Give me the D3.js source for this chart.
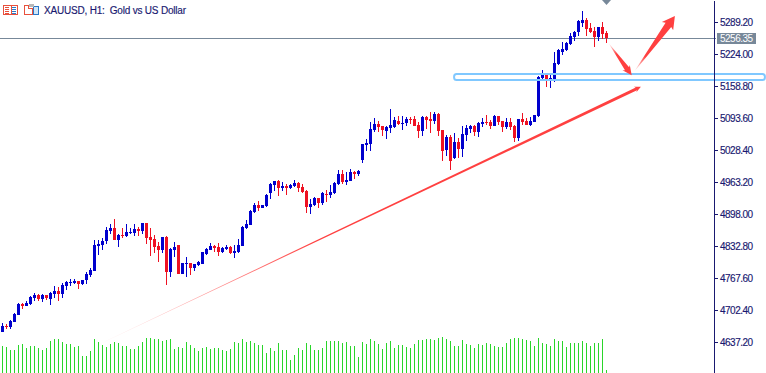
<!DOCTYPE html>
<html><head><meta charset="utf-8">
<script src="https://cdn.jsdelivr.net/npm/d3@7"></script>
<style>
html,body{margin:0;padding:0;background:#fff;overflow:hidden}
svg{display:block;font-family:"Liberation Sans",Arial,sans-serif}
</style></head><body>
<svg id="c" width="766" height="373"></svg>
<script>
const title = "XAUUSD, H1:  Gold vs US Dollar";
const lastPrice = 5256.35;
const priceTicks = [5289.20,5224.00,5158.80,5093.60,5028.40,4963.20,4898.00,4832.80,4767.60,4702.40,4637.20];
const opens = [4658,4670,4668,4679,4693,4715,4711,4715,4727,4734,4725,4734,4725,4736,4742,4736,4752,4758,4758,4762,4756,4764,4774,4782,4833,4835,4844,4864,4870,4846,4856,4854,4860,4860,4868,4864,4880,4852,4848,4833,4825,4852,4780,4825,4835,4776,4797,4799,4789,4795,4797,4817,4825,4833,4831,4821,4827,4831,4819,4821,4833,4870,4876,4903,4917,4911,4915,4941,4958,4966,4952,4956,4952,4956,4962,4954,4945,4913,4917,4931,4921,4939,4937,4941,4960,4980,4964,4966,4984,4980,5009,5039,5041,5070,5082,5078,5068,5074,5076,5088,5082,5084,5092,5092,5080,5068,5096,5092,5088,5102,5070,5029,5055,5013,5045,5031,5060,5072,5078,5066,5082,5086,5086,5078,5098,5088,5076,5086,5078,5053,5092,5088,5080,5086,5098,5176,5182,5172,5172,5204,5229,5233,5245,5259,5269,5288,5294,5278,5271,5259,5280,5267];
const highs = [4677,4675,4683,4697,4717,4717,4721,4732,4738,4736,4736,4734,4740,4752,4750,4758,4762,4766,4766,4762,4764,4780,4789,4846,4846,4850,4872,4878,4888,4858,4870,4878,4870,4878,4872,4880,4880,4870,4856,4842,4852,4854,4829,4842,4835,4799,4811,4799,4797,4803,4821,4829,4839,4835,4839,4831,4835,4833,4835,4848,4874,4886,4907,4921,4925,4917,4939,4962,4966,4968,4964,4960,4960,4968,4964,4960,4947,4929,4933,4931,4943,4947,4958,4964,4988,4988,4984,4990,4986,4988,5041,5051,5086,5094,5088,5078,5078,5112,5096,5098,5098,5096,5096,5098,5086,5098,5098,5106,5106,5104,5070,5060,5060,5064,5053,5078,5080,5080,5080,5086,5094,5100,5090,5100,5098,5088,5094,5094,5080,5092,5104,5094,5096,5100,5180,5192,5184,5182,5229,5235,5249,5249,5267,5271,5294,5312,5298,5288,5280,5280,5290,5271];
const lows = [4658,4664,4664,4679,4693,4705,4711,4713,4721,4721,4719,4723,4713,4727,4721,4727,4744,4752,4756,4746,4754,4756,4770,4782,4815,4825,4837,4858,4846,4831,4850,4852,4858,4854,4854,4858,4837,4813,4819,4801,4819,4754,4770,4811,4776,4776,4770,4774,4782,4793,4797,4815,4825,4821,4813,4819,4825,4817,4809,4819,4833,4868,4876,4901,4905,4911,4913,4929,4945,4935,4945,4937,4950,4954,4943,4941,4901,4899,4915,4911,4917,4923,4931,4939,4958,4960,4958,4966,4970,4976,5003,5027,5027,5066,5066,5058,5051,5064,5074,5080,5070,5078,5082,5078,5053,5058,5072,5064,5082,5058,5007,5017,4988,5011,5013,5015,5047,5064,5058,5055,5076,5080,5072,5078,5080,5066,5072,5070,5045,5047,5080,5080,5078,5086,5096,5170,5157,5155,5168,5202,5223,5231,5243,5251,5261,5280,5261,5267,5239,5251,5255,5247];
const closes = [4670,4668,4681,4695,4715,4711,4717,4730,4734,4725,4734,4727,4738,4742,4736,4754,4760,4760,4762,4756,4764,4776,4784,4835,4837,4844,4866,4870,4846,4856,4854,4862,4862,4868,4864,4880,4850,4846,4831,4825,4852,4780,4827,4831,4776,4799,4799,4789,4797,4801,4821,4827,4833,4829,4821,4829,4831,4819,4823,4835,4872,4878,4905,4917,4911,4917,4937,4960,4966,4952,4956,4952,4958,4962,4952,4943,4913,4919,4931,4921,4941,4937,4943,4962,4980,4964,4968,4984,4980,4986,5041,5043,5072,5082,5076,5070,5076,5080,5090,5082,5084,5092,5090,5078,5068,5096,5090,5088,5102,5068,5027,5055,5007,5045,5031,5062,5074,5078,5066,5084,5086,5084,5078,5098,5086,5076,5086,5076,5053,5092,5086,5080,5088,5100,5178,5182,5174,5176,5206,5233,5235,5247,5261,5269,5292,5294,5276,5269,5259,5280,5265,5256.35];
const volumes = [27,26,23,23,28,29,25,27,27,25,23,25,32,34,34,31,29,29,26,27,17,17,22,34,31,28,26,29,31,30,27,27,24,24,27,31,35,35,34,34,32,33,34,24,26,25,31,28,25,22,25,26,24,25,25,23,22,24,31,30,34,31,32,30,28,28,20,25,22,30,23,23,13,18,25,23,30,28,23,23,25,32,32,32,32,30,31,27,27,16,31,29,34,32,29,24,30,32,25,28,28,26,25,29,33,33,34,34,33,35,36,34,32,27,27,33,29,28,25,29,28,30,29,27,26,26,30,34,35,35,34,33,32,27,35,30,29,27,34,32,32,26,30,30,30,32,30,27,30,30,34,3];
// annotations, as [bar index, price]
const trendArrow = [[20.1,4617.4],[159.6,5157.9]];
const downArrow  = [[151.5,5247],[157.3,5181.2]];
const upArrow    = [[157.9,5188.5],[168.1,5302]];
const zoneBars   = [112.9,190.6];
const zonePrices = [5183.8,5171.6];

const blue="#0000cd", red="#ee1122", green="#2ad52a", axisC="#191970", grey="#778899", sky="#80c8ff", arrowC="#ff4040";
const svg=d3.select("#c");
const x=d3.scaleLinear().domain([0,151]).range([2.5,606.5]);
const y=d3.scaleLinear().domain([5334.6,4574.6]).range([0,373]);
const v=d3.scaleLinear().domain([0,40]).range([373,333]);
const idx=d3.range(closes.length);

// volumes
svg.append("g").attr("shape-rendering","crispEdges").selectAll("rect").data(idx).join("rect")
  .attr("x",i=>x(i)-.5).attr("width",1).attr("y",i=>v(volumes[i])).attr("height",i=>373-v(volumes[i])).attr("fill",green);

// price line
const py=Math.floor(y(lastPrice))+.5;
svg.append("line").attr("x1",0).attr("x2",716).attr("y1",py).attr("y2",py).attr("stroke",grey);

// candles
const g=svg.append("g").attr("shape-rendering","crispEdges");
const col=i=>closes[i]>=opens[i]?blue:red;
g.selectAll(".w").data(idx).join("rect").attr("class","w")
  .attr("x",i=>x(i)-.5).attr("width",1).attr("y",i=>y(highs[i])).attr("height",i=>y(lows[i])-y(highs[i])).attr("fill",col);
g.selectAll(".b").data(idx).join("rect").attr("class","b")
  .attr("x",i=>x(i)-1.5).attr("width",3)
  .attr("y",i=>y(Math.max(opens[i],closes[i])))
  .attr("height",i=>Math.max(1,Math.abs(y(opens[i])-y(closes[i])))).attr("fill",col);

// zone
svg.append("rect").attr("x",x(zoneBars[0])).attr("width",x(zoneBars[1])-x(zoneBars[0]))
  .attr("y",y(zonePrices[0])).attr("height",y(zonePrices[1])-y(zonePrices[0])).attr("rx",2.5)
  .attr("fill","none").attr("stroke",sky).attr("stroke-width",2);

// arrows
const defs=svg.append("defs");
function arrow(pts,id,fadeEnd,sw,hl,hw){
  const [a,b]=pts.map(p=>[x(p[0]),y(p[1])]);
  const dx=b[0]-a[0],dy=b[1]-a[1],L=Math.hypot(dx,dy),ux=dx/L,uy=dy/L,nx=-uy,ny=ux;
  const nk=[b[0]-ux*hl,b[1]-uy*hl];
  const poly=[[a[0],a[1]],
    [nk[0]+nx*sw/2,nk[1]+ny*sw/2],[nk[0]-ux*1.5+nx*hw/2,nk[1]-uy*1.5+ny*hw/2],b,
    [nk[0]-ux*1.5-nx*hw/2,nk[1]-uy*1.5-ny*hw/2],[nk[0]-nx*sw/2,nk[1]-ny*sw/2]];
  const gr=defs.append("linearGradient").attr("id",id).attr("gradientUnits","userSpaceOnUse")
    .attr("x1",a[0]).attr("y1",a[1]).attr("x2",a[0]+ux*L*fadeEnd).attr("y2",a[1]+uy*L*fadeEnd);
  gr.append("stop").attr("offset",0).attr("stop-color",arrowC).attr("stop-opacity",0);
  gr.append("stop").attr("offset",1).attr("stop-color",arrowC).attr("stop-opacity",1);
  svg.append("polygon").attr("points",poly.map(p=>p.join(",")).join(" ")).attr("fill",`url(#${id})`);
}
arrow(trendArrow,"ga1",.42,3,5,6);
arrow(downArrow,"ga2",.35,5,8,9);
arrow(upArrow,"ga3",.28,7,11,14);

// chart-shift marker
svg.append("polygon").attr("points","602,0 611,0 606.5,5").attr("fill",grey);

// axis
const ax=svg.append("g").attr("transform","translate(714,0)")
  .call(d3.axisRight(y).tickValues(priceTicks).tickFormat(d3.format(".2f")).tickSize(4).tickSizeOuter(0).tickPadding(2));
ax.selectAll("path,line").attr("stroke",axisC).attr("shape-rendering","crispEdges");
ax.selectAll("text").attr("fill",axisC).attr("font-size",10).attr("letter-spacing","-0.5px").attr("stroke",axisC).attr("stroke-width",.15).attr("font-family",'"Liberation Sans",Arial,sans-serif');

// current price tag
svg.append("rect").attr("x",717).attr("y",33).attr("width",39).attr("height",11).attr("fill",grey);
svg.append("text").attr("x",720).attr("y",42).attr("fill","#fff").attr("font-size",10).attr("letter-spacing","-0.5px").text(d3.format(".2f")(lastPrice));

// title
svg.append("text").attr("x",44).attr("y",14).attr("fill",axisC).attr("font-size",10).attr("letter-spacing","-0.2px").attr("stroke",axisC).attr("stroke-width",.15).style("white-space","pre").text(title);

// toolbar icons
const ic=svg.append("g").attr("shape-rendering","crispEdges").attr("fill","none");
ic.append("rect").attr("x",3.5).attr("y",5.5).attr("width",14).attr("height",9).attr("stroke","#e8503c");
ic.append("rect").attr("x",10.5).attr("y",6).attr("width",1).attr("height",8).attr("fill","#e8503c");
[7,9,11,13].forEach(yy=>{ic.append("rect").attr("x",5).attr("y",yy).attr("width",4).attr("height",1).attr("fill","#e8503c");
 ic.append("rect").attr("x",12).attr("y",yy).attr("width",4).attr("height",1).attr("fill","#2a78c8");});
ic.append("path").attr("d","M24.5 5.5h4v3h4v6h-8z").attr("stroke","#e8503c");
ic.append("path").attr("d","M33.5 6.5h5v8h-5z").attr("stroke","#2a78c8").attr("fill","#cfe6f8");
ic.append("rect").attr("x",29).attr("y",4).attr("width",5).attr("height",3).attr("fill","#b8b8b8");
</script>
</body></html>
